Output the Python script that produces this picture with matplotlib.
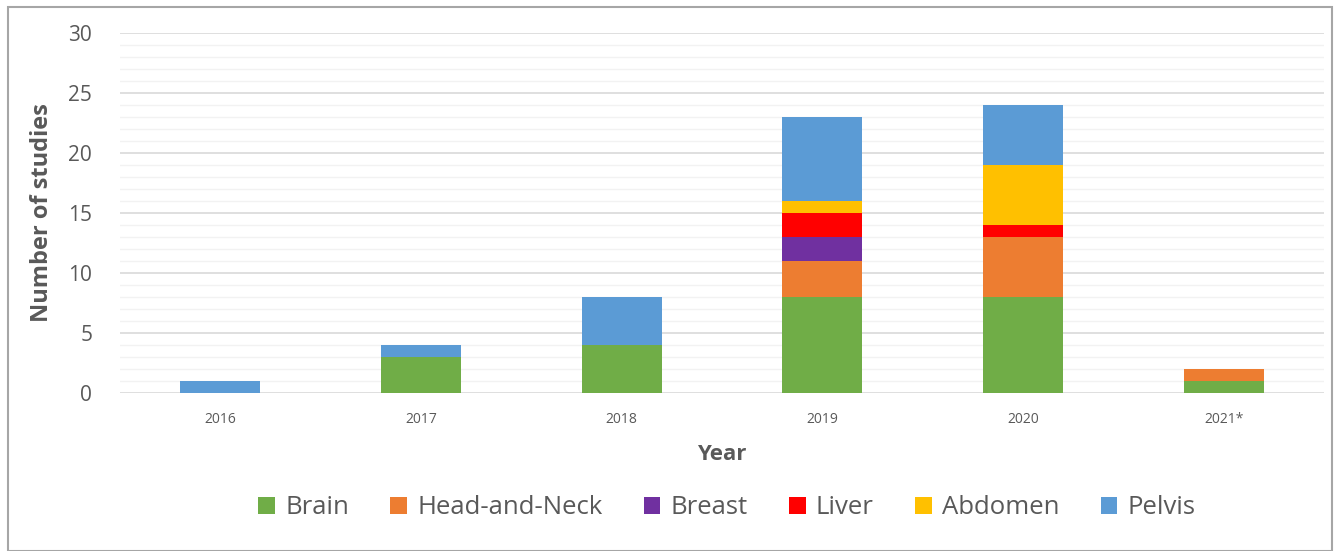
import matplotlib
matplotlib.use("Agg")
import matplotlib.pyplot as plt
import numpy as np
from matplotlib.patches import Rectangle

years = ["2016", "2017", "2018", "2019", "2020", "2021*"]
series_names = ["Brain", "Head-and-Neck", "Breast", "Liver", "Abdomen", "Pelvis"]
brain = [0, 3, 4, 8, 8, 1]
head_neck = [0, 0, 0, 3, 5, 1]
breast = [0, 0, 0, 2, 0, 0]
liver = [0, 0, 0, 2, 1, 0]
abdomen = [0, 0, 0, 1, 5, 0]
pelvis = [1, 1, 4, 7, 5, 0]
colors = ["#70AD47", "#ED7D31", "#7030A0", "#FF0000", "#FFC000", "#5B9BD5"]

plt.rcParams['font.family'] = ['Open Sans', 'DejaVu Sans']
fig = plt.figure(figsize=(13.39, 5.51), dpi=100)
ax = fig.add_axes([120/1339, 1-393/551, 1204/1339, 360/551])

x = np.arange(len(years))
bottom = np.zeros(len(years))
for name, vals, c in zip(series_names, [brain, head_neck, breast, liver, abdomen, pelvis], colors):
    ax.bar(x, vals, 0.40, bottom=bottom, color=c, label=name, zorder=3)
    bottom += np.array(vals)

ax.set_xlim(-0.5, len(years)-0.5)
ax.set_ylim(0, 30)
ax.set_yticks(np.arange(0, 31, 5))
ax.set_yticks(np.arange(0, 31, 1), minor=True)
ax.yaxis.grid(True, which='major', color='#D9D9D9', linewidth=1.2, zorder=0)
ax.yaxis.grid(True, which='minor', color='#F2F2F2', linewidth=1.0, zorder=0)
ax.set_axisbelow(True)
for s in ax.spines.values():
    s.set_visible(False)
ax.tick_params(axis='both', which='both', length=0)
ax.tick_params(axis='y', labelsize=15, labelcolor='#595959', pad=20)
ax.tick_params(axis='x', labelsize=10, labelcolor='#595959', pad=14)
ax.set_xticks(x)
ax.set_xticklabels(years)
ax.set_xlabel("Year", fontsize=16, fontweight='bold', color='#595959', labelpad=12)
ax.set_ylabel("Number of studies", fontsize=17, fontweight='bold', color='#595959', labelpad=10)

leg = fig.legend(loc='center', bbox_to_anchor=(727/1339, 1-508/551), ncol=6, frameon=False,
                 fontsize=18.5, handlelength=0.65, handleheight=0.65, handletextpad=0.4,
                 columnspacing=1.6)
for t in leg.get_texts():
    t.set_color('#595959')

fig.patches.append(Rectangle((8/1339, 0), (1332-8)/1339, 1-7/551, transform=fig.transFigure,
                             fill=False, edgecolor='#A6A6A6', linewidth=1.5))

fig.savefig("out.png", dpi=100)
